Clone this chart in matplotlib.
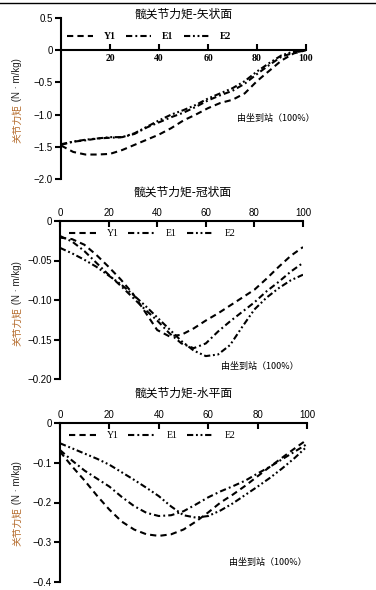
import matplotlib
matplotlib.use("Agg")
import matplotlib.pyplot as plt
from matplotlib.lines import Line2D

plt.rcParams['font.family'] = ['Liberation Sans', 'Noto Sans CJK SC', 'DejaVu Sans']
plt.rcParams['axes.unicode_minus'] = True

CJK = ['Noto Sans CJK SC', 'DejaVu Sans']

# percent of sit-to-stand cycle
x_pct = [0, 5, 10, 15, 20, 25, 30, 35, 40, 45, 50, 55, 60, 65, 70, 75, 80, 85, 90, 95, 100]

# sagittal hip moment (N*m/kg)
sag_y1 = [-1.48, -1.58, -1.62, -1.62, -1.61, -1.55, -1.47, -1.39, -1.31, -1.21, -1.09, -1.00,
          -0.90, -0.82, -0.77, -0.67, -0.48, -0.32, -0.16, -0.05, 0.0]
sag_e1 = [-1.47, -1.42, -1.40, -1.37, -1.36, -1.35, -1.30, -1.20, -1.12, -1.04, -0.97, -0.88,
          -0.78, -0.70, -0.63, -0.52, -0.37, -0.23, -0.10, -0.04, 0.0]
sag_e2 = [-1.46, -1.42, -1.39, -1.37, -1.35, -1.35, -1.29, -1.19, -1.09, -1.00, -0.93, -0.85,
          -0.75, -0.67, -0.59, -0.48, -0.33, -0.20, -0.08, -0.02, 0.0]

# coronal hip moment
cor_y1 = [-0.021, -0.023, -0.030, -0.043, -0.058, -0.074, -0.092, -0.115, -0.138, -0.146, -0.144,
          -0.136, -0.126, -0.117, -0.107, -0.097, -0.087, -0.073, -0.058, -0.044, -0.033]
cor_e1 = [-0.019, -0.026, -0.038, -0.053, -0.068, -0.082, -0.097, -0.112, -0.126, -0.142, -0.155,
          -0.161, -0.155, -0.140, -0.127, -0.115, -0.103, -0.089, -0.077, -0.064, -0.053]
cor_e2 = [-0.034, -0.041, -0.049, -0.058, -0.069, -0.080, -0.093, -0.107, -0.122, -0.137, -0.152,
          -0.164, -0.171, -0.169, -0.157, -0.134, -0.112, -0.097, -0.085, -0.075, -0.068]

# horizontal-plane hip moment
hor_y1 = [-0.072, -0.110, -0.145, -0.183, -0.218, -0.248, -0.268, -0.280, -0.284, -0.280, -0.268,
          -0.248, -0.225, -0.200, -0.180, -0.158, -0.134, -0.110, -0.087, -0.064, -0.042]
hor_e1 = [-0.068, -0.095, -0.120, -0.140, -0.160, -0.186, -0.209, -0.226, -0.234, -0.232, -0.222,
          -0.205, -0.187, -0.172, -0.159, -0.145, -0.127, -0.110, -0.091, -0.072, -0.053]
hor_e2 = [-0.051, -0.064, -0.077, -0.090, -0.105, -0.124, -0.143, -0.163, -0.184, -0.210, -0.232,
          -0.238, -0.234, -0.220, -0.202, -0.181, -0.160, -0.138, -0.114, -0.088, -0.059]

series_names = ['Y1', 'E1', 'E2']
titles = ['髋关节力矩-矢状面', '髋关节力矩-冠状面', '髋关节力矩-水平面']
note = '由坐到站（100%）'

W, H = 376, 590
fig = plt.figure(figsize=(W / 100, H / 100), dpi=100)


def fx(px):
    return px / W


def fy(py):
    return 1 - py / H


def add_axes(left, top, right, bottom):
    return fig.add_axes([fx(left), fy(bottom), fx(right) - fx(left), fy(top) - fy(bottom)])


styles = [dict(linestyle=(0, (3.0, 2.0))),
          dict(linestyle=(0, (3.0, 1.5, 0.9, 1.5))),
          dict(linestyle=(0, (3.0, 1.3, 0.9, 1.3, 0.9, 1.3)))]
lw = 1.5


def draw(ax, ys):
    for y, st, name in zip(ys, styles, series_names):
        ax.plot(x_pct, y, color='black', lw=lw, label=name, **st)


def ylabel(xc, split, color='#b46a2a'):
    fig.text(fx(xc), fy(split), '关节力矩', rotation=90, ha='center', va='top',
             fontsize=7, color=color, family=CJK)
    fig.text(fx(xc), fy(split), ' (N · m/kg)', rotation=90, ha='center', va='bottom',
             fontsize=7, color='#222222', family=['Liberation Sans'])


# ---------- panel 1: sagittal ----------
ax1 = add_axes(61, 18, 306, 179)
draw(ax1, [sag_y1, sag_e1, sag_e2])
ax1.set_xlim(0, 100)
ax1.set_ylim(-2.0, 0.5)
ax1.spines['bottom'].set_position(('data', 0))
ax1.spines['top'].set_visible(False)
ax1.spines['right'].set_visible(False)
for s in ['left', 'bottom']:
    ax1.spines[s].set_linewidth(1.5)
ax1.set_xticks([20, 40, 60, 80, 100])
ax1.set_yticks([0.5, 0, -0.5, -1.0, -1.5, -2.0])
ax1.set_yticklabels(['0.5', '0', '\u22120.5', '\u22121.0', '\u22121.5', '\u22122.0'])
ax1.tick_params(axis='x', direction='in', length=4, width=1.5, labelsize=7, pad=3)
ax1.tick_params(axis='y', direction='out', length=4, width=1.5, labelsize=7, pad=2)
for t in ax1.get_xticklabels():
    t.set_fontfamily('Liberation Serif')
    t.set_fontweight('bold')
ax1.legend(ncol=3, frameon=False, loc='center left', bbox_to_anchor=(0.01, 0.885),
           handlelength=2.6, handletextpad=1.1, columnspacing=1.1, borderaxespad=0,
           prop={'family': 'Liberation Serif', 'size': 7, 'weight': 'bold'})
fig.text(fx(183), fy(14), titles[0], ha='center', va='center', fontsize=8.5, family=CJK)
fig.text(fx(276), fy(118), note, ha='center', va='center', fontsize=6.5, family=CJK)
ylabel(17, 104)


def lower_panel(ax, ys, ylim, yticks, ylabels):
    draw(ax, ys)
    ax.set_xlim(0, 100)
    ax.set_ylim(*ylim)
    ax.xaxis.set_ticks_position('top')
    ax.spines['bottom'].set_visible(False)
    ax.spines['right'].set_visible(False)
    for s in ['left', 'top']:
        ax.spines[s].set_linewidth(1.5)
    ax.set_xticks([0, 20, 40, 60, 80, 100])
    ax.set_yticks(yticks)
    ax.set_yticklabels(ylabels)
    ax.tick_params(axis='x', direction='in', length=4, width=1.5, labelsize=7, pad=2)
    ax.tick_params(axis='y', direction='out', length=4, width=1.5, labelsize=7, pad=2)
    ax.legend(ncol=3, frameon=False, loc='center left', bbox_to_anchor=(0.02, 0.92),
              handlelength=2.8, handletextpad=1.1, columnspacing=1.0, borderaxespad=0,
              prop={'family': 'Liberation Serif', 'size': 7})


# ---------- panel 2: coronal ----------
ax2 = add_axes(60, 221, 303, 379)
lower_panel(ax2, [cor_y1, cor_e1, cor_e2], (-0.20, 0),
            [0, -0.05, -0.10, -0.15, -0.20],
            ['0', '\u22120.05', '\u22120.10', '\u22120.15', '\u22120.20'])
fig.text(fx(182), fy(192), titles[1], ha='center', va='center', fontsize=8.5, family=CJK)
fig.text(fx(260), fy(366), note, ha='center', va='center', fontsize=6.5, family=CJK)
ylabel(17, 307)

# ---------- panel 3: horizontal ----------
ax3 = add_axes(60, 423, 307, 582)
lower_panel(ax3, [hor_y1, hor_e1, hor_e2], (-0.4, 0),
            [0, -0.1, -0.2, -0.3, -0.4],
            ['0', '\u22120.1', '\u22120.2', '\u22120.3', '\u22120.4'])
fig.text(fx(183), fy(393), titles[2], ha='center', va='center', fontsize=8.5, family=CJK)
fig.text(fx(268), fy(563), note, ha='center', va='center', fontsize=6.5, family=CJK)
ylabel(17, 507)

# rule at the top of the page
fig.add_artist(Line2D([0, 1], [fy(2.5), fy(2.5)], color='black', lw=1.0,
                      transform=fig.transFigure))

fig.savefig('out.png', dpi=100)
